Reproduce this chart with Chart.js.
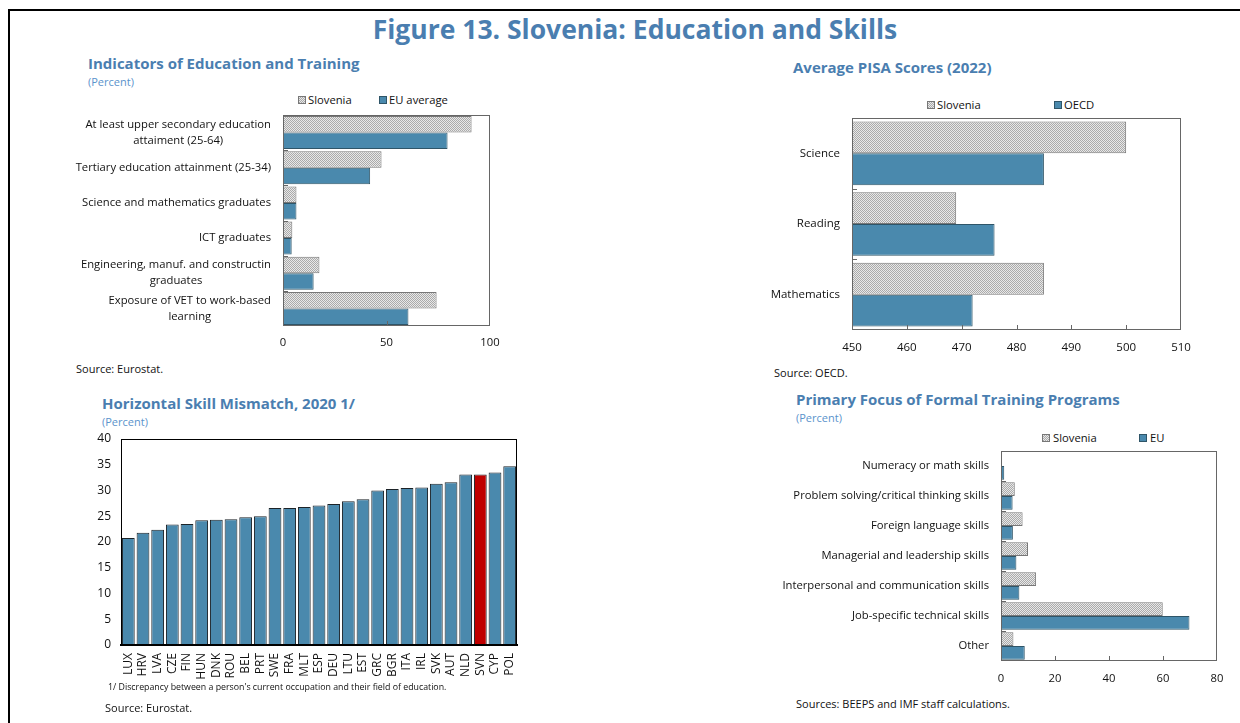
<!DOCTYPE html>
<html>
<head>
<meta charset="utf-8">
<script src="https://cdn.jsdelivr.net/npm/chart.js@4"></script>
<style>
  body { margin: 0; background: #fff; font-family: "Open Sans", sans-serif; }
  #page { position: relative; width: 1240px; height: 723px; overflow: hidden; }
  #frame { position: absolute; left: 8px; top: 9px; right: -10px; bottom: -10px; border-top: 2px solid #000; border-left: 2px solid #000; }
  .t { position: absolute; white-space: nowrap; line-height: 1; color: #111; }
  .main { font-weight: 700; font-size: 26.5px; color: #4a7eb0; left: 0; width: 1270px; text-align: center; top: 16px; }
  .ttl { font-weight: 700; font-size: 15px; color: #4a7eb0; }
  .pct { font-size: 11px; color: #5b93cc; }
  .src { font-size: 11px; }
  .lg { position: absolute; font-size: 11.25px; line-height: 1; white-space: nowrap; color: #111; }
  .box { position: absolute; width: 7px; height: 7px; }
  .hatch { background: repeating-conic-gradient(#aaaaaa 0 25%, #e8e8e8 0 50%) 0 0 / 2px 2px; border: 1px solid #777; width: 6px; height: 6px; }
  .blue { background: #4a89ad; border: 1px solid #2f5568; width: 6px; height: 6px; }
  canvas { position: absolute; }
</style>
</head>
<body>
<div id="page">
  <div id="frame"></div>
  <div class="t main">Figure 13. Slovenia: Education and Skills</div>

  <div class="t ttl" style="left:88px;top:56px">Indicators of Education and Training</div>
  <div class="t pct" style="left:88px;top:76px">(Percent)</div>
  <div class="box hatch" style="left:298px;top:96px"></div><div class="lg" style="left:308px;top:94px">Slovenia</div>
  <div class="box blue" style="left:379px;top:96px"></div><div class="lg" style="left:389px;top:94px">EU average</div>
  <canvas id="edu" width="450" height="250" style="left:60px;top:110px"></canvas>
  <div class="t src" style="left:76px;top:363px">Source: Eurostat.</div>

  <div class="t ttl" style="left:793px;top:60px">Average PISA Scores (2022)</div>
  <div class="box hatch" style="left:927px;top:101px"></div><div class="lg" style="left:937px;top:99px">Slovenia</div>
  <div class="box blue" style="left:1054px;top:101px"></div><div class="lg" style="left:1064px;top:99px">OECD</div>
  <canvas id="pisa" width="450" height="250" style="left:760px;top:112px"></canvas>
  <div class="t src" style="left:774px;top:367px">Source: OECD.</div>

  <div class="t ttl" style="left:102px;top:396px">Horizontal Skill Mismatch, 2020 1/</div>
  <div class="t pct" style="left:102px;top:416px">(Percent)</div>
  <canvas id="mismatch" width="460" height="260" style="left:70px;top:430px"></canvas>
  <div class="t" style="left:108px;top:683px;font-size:8.8px">1/ Discrepancy between a person's current occupation and their field of education.</div>
  <div class="t src" style="left:105px;top:702px">Source: Eurostat.</div>

  <div class="t ttl" style="left:796px;top:392px">Primary Focus of Formal Training Programs</div>
  <div class="t pct" style="left:796px;top:412px">(Percent)</div>
  <div class="box hatch" style="left:1042px;top:434px"></div><div class="lg" style="left:1053px;top:432px">Slovenia</div>
  <div class="box blue" style="left:1139px;top:434px"></div><div class="lg" style="left:1150px;top:432px">EU</div>
  <canvas id="training" width="450" height="245" style="left:780px;top:445px"></canvas>
  <div class="t src" style="left:796px;top:698px">Sources: BEEPS and IMF staff calculations.</div>
</div>

<script>
// Indicators of Education and Training
const eduLabels = [
  ["At least upper secondary education", "attaiment (25-64)"],
  "Tertiary education attainment (25-34)",
  "Science and mathematics graduates",
  "ICT graduates",
  ["Engineering, manuf. and constructin", "graduates"],
  ["Exposure of VET to work-based", "learning"]
]
const eduSlovenia = [91.1, 47.6, 6.5, 4.5, 17.6, 74.2]
const eduEU = [79.5, 42.1, 6.5, 4.2, 14.8, 60.6]
const eduTicks = [0, 50, 100]

// Average PISA Scores (2022)
const pisaLabels = ["Science", "Reading", "Mathematics"]
const pisaSlovenia = [500, 469, 485]
const pisaOECD = [485, 476, 472]
const pisaTicks = [450, 460, 470, 480, 490, 500, 510]

// Horizontal Skill Mismatch, 2020
const mismatchCountries = ["LUX", "HRV", "LVA", "CZE", "FIN", "HUN", "DNK", "ROU", "BEL", "PRT", "SWE", "FRA", "MLT", "ESP",
  "DEU", "LTU", "EST", "GRC", "BGR", "ITA", "IRL", "SVK", "AUT", "NLD", "SVN", "CYP", "POL"]
const mismatchValues = [20.8, 21.8, 22.4, 23.4, 23.5, 24.2, 24.3, 24.4, 24.8, 25.0, 26.6, 26.6, 26.8, 27.1,
  27.4, 27.9, 28.3, 30.0, 30.3, 30.5, 30.6, 31.3, 31.6, 33.1, 33.1, 33.5, 34.7]
const mismatchTicks = [0, 5, 10, 15, 20, 25, 30, 35, 40]

// Primary Focus of Formal Training Programs
const trainLabels = ["Numeracy or math skills", "Problem solving/critical thinking skills", "Foreign language skills",
  "Managerial and leadership skills", "Interpersonal and communication skills", "Job-specific technical skills", "Other"]
const trainSlovenia = [0.4, 5.1, 8.0, 10.0, 13.0, 59.9, 4.6]
const trainEU = [1.2, 4.3, 4.4, 5.7, 6.8, 69.8, 8.8]
const trainTicks = [0, 20, 40, 60, 80]

const BLUE = "#4a89ad"
const BLUE_EDGE = "#2f5568"
const RED = "#c00000"
const FONT = "'Open Sans', sans-serif"

function hatchPattern() {
  const c = document.createElement("canvas")
  c.width = 2; c.height = 2
  const g = c.getContext("2d")
  g.fillStyle = "#e8e8e8"; g.fillRect(0, 0, 2, 2)
  g.fillStyle = "#aaaaaa"; g.fillRect(0, 0, 1, 1); g.fillRect(1, 1, 1, 1)
  return g.createPattern(c, "repeat")
}
const HATCH = hatchPattern()

// box round the plot + small inward tick marks
const framePlugin = {
  id: "frame",
  afterDatasetsDraw(chart, args, opts) {
    const { ctx, chartArea: a } = chart
    ctx.save()
    ctx.strokeStyle = opts.color || "#666"
    ctx.lineWidth = 1
    ctx.strokeRect(Math.round(a.left) + 0.5, Math.round(a.top) + 0.5, Math.round(a.right - a.left) - 1, Math.round(a.bottom - a.top) - 1)
    if (opts.ticks) {
      const x = chart.scales.x, y = chart.scales.y
      ctx.beginPath()
      x.ticks.forEach(t => {
        if (t.value === x.min || t.value === x.max) return
        const px = Math.round(x.getPixelForValue(t.value)) + 0.5
        ctx.moveTo(px, a.bottom); ctx.lineTo(px, a.bottom - 5)
      })
      for (let i = 1; i < y.ticks.length; i++) {
        const py = Math.round((y.getPixelForValue(i - 1) + y.getPixelForValue(i)) / 2) + 0.5
        ctx.moveTo(a.left, py); ctx.lineTo(a.left + 5, py)
      }
      ctx.stroke()
    }
    ctx.restore()
  }
}

// multi-line category labels, lines centred on each other, block right-aligned
const centredLabels = {
  id: "centredLabels",
  afterDraw(chart, args, opts) {
    const { ctx, chartArea: a } = chart
    const y = chart.scales.y
    ctx.save()
    ctx.font = opts.font
    ctx.fillStyle = "#111"
    ctx.textAlign = "center"
    ctx.textBaseline = "middle"
    chart.data.labels.forEach((lab, i) => {
      const lines = Array.isArray(lab) ? lab : [lab]
      const w = Math.max(...lines.map(l => ctx.measureText(l).width))
      const cx = a.left - opts.gap - w / 2
      const cy = y.getPixelForValue(i)
      lines.forEach((l, k) => ctx.fillText(l, cx, cy + (k - (lines.length - 1) / 2) * opts.lineHeight))
    })
    ctx.restore()
  }
}

function fixedTicks(values) {
  return scale => { scale.ticks = values.map(v => ({ value: v })) }
}
// fix the axis size and drop the label overhang padding so the plot box lands where we want it
function fitAxis(size) {
  return s => {
    if (s.isHorizontal()) s.height = size
    else s.width = size
    s.paddingTop = s.paddingBottom = s.paddingLeft = s.paddingRight = 0
  }
}

Chart.defaults.font.family = FONT
Chart.defaults.color = "#111"
Chart.defaults.animation = false

new Chart(document.getElementById("edu"), {
  type: "bar",
  data: {
    labels: eduLabels,
    datasets: [
      { label: "Slovenia", data: eduSlovenia, backgroundColor: HATCH, borderColor: "#777", borderWidth: 1 },
      { label: "EU average", data: eduEU, backgroundColor: BLUE, borderColor: BLUE_EDGE, borderWidth: 1 }
    ]
  },
  options: {
    responsive: false,
    indexAxis: "y",
    categoryPercentage: 0.94,
    barPercentage: 1,
    layout: { padding: { top: 5, right: 20, left: 0, bottom: 0 } },
    plugins: {
      legend: { display: false },
      tooltip: { enabled: false },
      frame: { ticks: true },
      centredLabels: { font: "11.25px " + FONT, gap: 12, lineHeight: 16 }
    },
    scales: {
      x: {
        min: 0, max: 100,
        afterBuildTicks: fixedTicks(eduTicks),
        grid: { display: false, drawTicks: false },
        border: { display: false },
        ticks: { padding: 10, font: { size: 11.25 } },
        afterFit: fitAxis(34)
      },
      y: {
        grid: { display: false, drawTicks: false },
        border: { display: false },
        ticks: { display: false },
        afterFit: fitAxis(223)
      }
    }
  },
  plugins: [framePlugin, centredLabels]
})

new Chart(document.getElementById("pisa"), {
  type: "bar",
  data: {
    labels: pisaLabels,
    datasets: [
      { label: "Slovenia", data: pisaSlovenia, backgroundColor: HATCH, borderColor: "#777", borderWidth: 1 },
      { label: "OECD", data: pisaOECD, backgroundColor: BLUE, borderColor: BLUE_EDGE, borderWidth: 1 }
    ]
  },
  options: {
    responsive: false,
    indexAxis: "y",
    categoryPercentage: 0.9,
    barPercentage: 1,
    layout: { padding: { top: 6, right: 29, left: 0, bottom: 0 } },
    plugins: { legend: { display: false }, tooltip: { enabled: false }, frame: { ticks: true } },
    scales: {
      x: {
        min: 450, max: 510,
        afterBuildTicks: fixedTicks(pisaTicks),
        grid: { display: false, drawTicks: false },
        border: { display: false },
        ticks: { padding: 11, font: { size: 11.5 } },
        afterFit: fitAxis(32)
      },
      y: {
        grid: { display: false, drawTicks: false },
        border: { display: false },
        ticks: { padding: 12, font: { size: 11.5 } },
        afterFit: fitAxis(92)
      }
    }
  },
  plugins: [framePlugin]
})

new Chart(document.getElementById("mismatch"), {
  type: "bar",
  data: {
    labels: mismatchCountries,
    datasets: [{
      label: "Horizontal skill mismatch",
      data: mismatchValues,
      backgroundColor: mismatchCountries.map(c => c === "SVN" ? RED : BLUE),
      borderColor: "#1c2328",
      borderWidth: 1
    }]
  },
  options: {
    responsive: false,
    categoryPercentage: 0.87,
    barPercentage: 1,
    layout: { padding: { top: 9, right: 13, left: 0, bottom: 0 } },
    plugins: { legend: { display: false }, tooltip: { enabled: false }, frame: { color: "#000" } },
    scales: {
      x: {
        grid: { display: false, drawTicks: false },
        border: { display: true, color: "#000", width: 2 },
        ticks: { padding: 8, autoSkip: false, minRotation: 90, maxRotation: 90, font: { size: 12 } },
        afterFit: fitAxis(45)
      },
      y: {
        min: 0, max: 40,
        afterBuildTicks: fixedTicks(mismatchTicks),
        grid: { display: false, drawTicks: false },
        border: { display: true, color: "#000", width: 1 },
        ticks: { padding: 10, font: { size: 12 } },
        afterFit: fitAxis(51)
      }
    }
  },
  plugins: [framePlugin]
})

new Chart(document.getElementById("training"), {
  type: "bar",
  data: {
    labels: trainLabels,
    datasets: [
      { label: "Slovenia", data: trainSlovenia, backgroundColor: HATCH, borderColor: "#777", borderWidth: 1 },
      { label: "EU", data: trainEU, backgroundColor: BLUE, borderColor: BLUE_EDGE, borderWidth: 1 }
    ]
  },
  options: {
    responsive: false,
    indexAxis: "y",
    categoryPercentage: 0.92,
    barPercentage: 1,
    layout: { padding: { top: 6, right: 13, left: 0, bottom: 0 } },
    plugins: { legend: { display: false }, tooltip: { enabled: false }, frame: { ticks: true } },
    scales: {
      x: {
        min: 0, max: 80,
        afterBuildTicks: fixedTicks(trainTicks),
        grid: { display: false, drawTicks: false },
        border: { display: false },
        ticks: { padding: 11, font: { size: 11.25 } },
        afterFit: fitAxis(29)
      },
      y: {
        grid: { display: false, drawTicks: false },
        border: { display: false },
        ticks: { padding: 12, font: { size: 11.25 } },
        afterFit: fitAxis(221)
      }
    }
  },
  plugins: [framePlugin]
})
</script>
</body>
</html>
